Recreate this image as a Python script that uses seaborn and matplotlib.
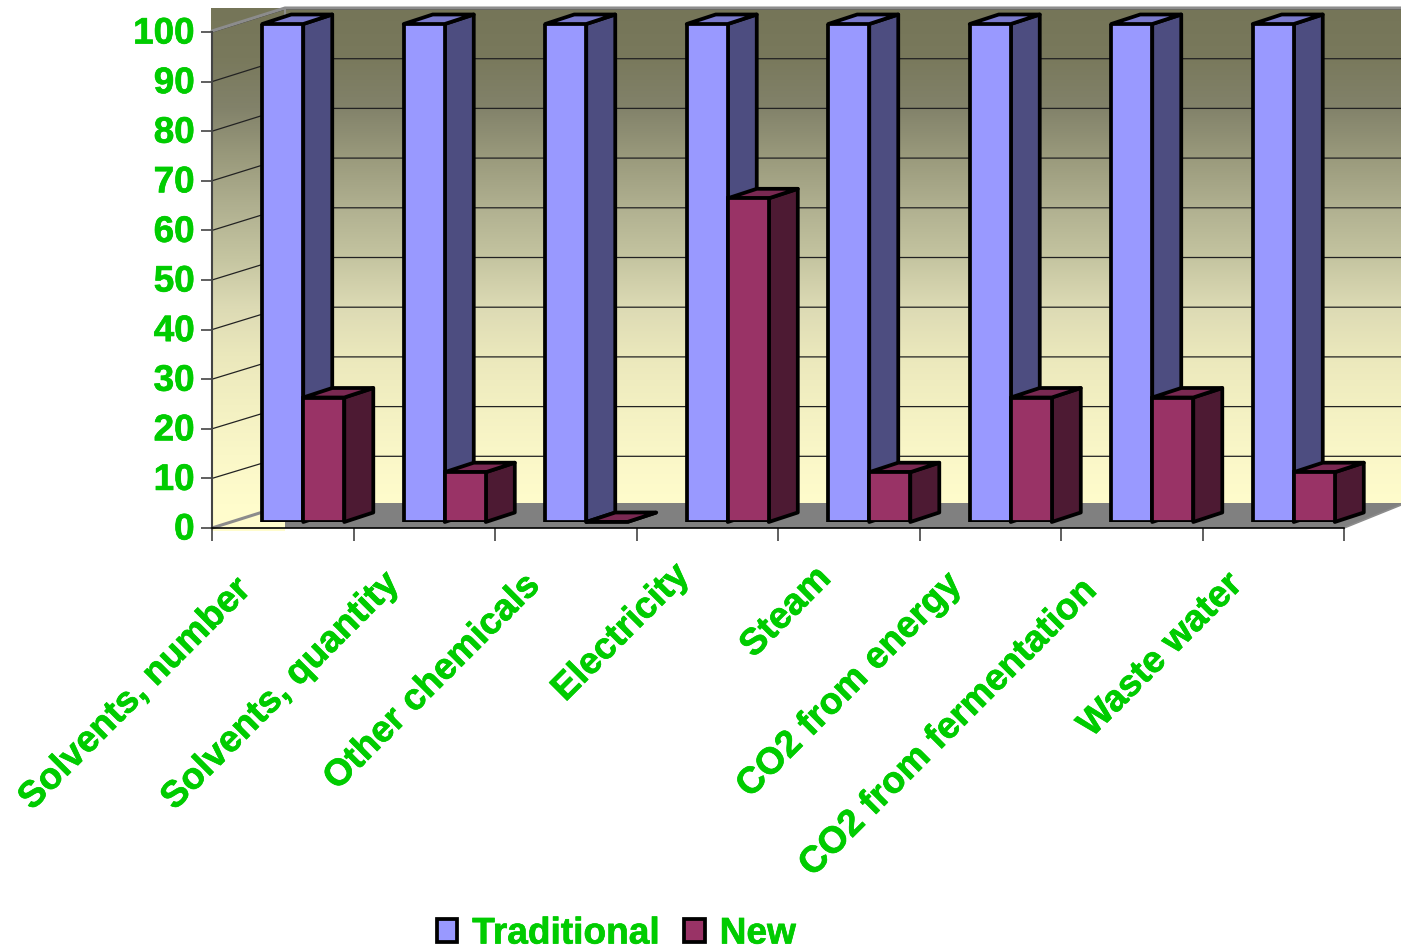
import numpy as np
import pandas as pd
import matplotlib
matplotlib.use('Agg')
import matplotlib.pyplot as plt
import matplotlib.patheffects as pe
from matplotlib.colors import LinearSegmentedColormap
from matplotlib.patches import Polygon, PathPatch
from matplotlib.path import Path
from matplotlib.transforms import ScaledTranslation
import seaborn as sns

categories = ['Solvents, number', 'Solvents, quantity', 'Other chemicals', 'Electricity',
              'Steam', 'CO2 from energy', 'CO2 from fermentation', 'Waste water']
traditional = [100, 100, 100, 100, 100, 100, 100, 100]
new = [25, 10, 0, 65, 10, 25, 25, 10]
y_ticks = [0, 10, 20, 30, 40, 50, 60, 70, 80, 90, 100]

# hand nudges for the slanted labels, in pixels (right, up)
label_nudge_x = [-14, -7, -8, 0, 0, -11, -17, -13]
label_nudge_y = [-2, 4, 2, 12, 9, 3, -3, 3]

# wall colours read top to bottom at each gridline
wall_colors = ['#757558', '#79795C', '#82826A', '#9A9A7C', '#B0B090', '#C4C4A0',
               '#DCDAB4', '#EBE8BC', '#F3F0C2', '#FAF7C8', '#FFFCCC']

GREEN = '#00CC00'
W, H = 1401, 951
BOLDER = [pe.withStroke(linewidth=0.5, foreground=GREEN)]


def rect(left, right, top, bottom):
    # pixel box -> figure fractions
    return [left / W, 1 - bottom / H, (right - left) / W, (bottom - top) / H]


sns.set_theme(style='white')
plt.rcParams['font.family'] = ['Liberation Sans', 'DejaVu Sans']
plt.rcParams['font.weight'] = 'bold'

fig = plt.figure(figsize=(W / 100, H / 100), dpi=100)

# walls and floor, in pixel coordinates
bg = fig.add_axes([0, 0, 1, 1], zorder=0)
wall_cmap = LinearSegmentedColormap.from_list('wall', wall_colors)
img = bg.imshow(np.linspace(0, 1, 256).reshape(-1, 1), cmap=wall_cmap, aspect='auto',
                extent=(211, 1401, 505, 8))
low = bg.imshow(np.ones((2, 2)), cmap=wall_cmap, vmin=0, vmax=1, aspect='auto',
                extent=(211, 1401, 531, 505))
wall_path = Path([(211, 8), (1401, 8), (1401, 505), (285, 505), (285, 531), (211, 531), (211, 8)], closed=True)
for im in (img, low):
    im.set_clip_path(PathPatch(wall_path, transform=bg.transData))
bg.add_patch(Polygon([(285, 503), (1401, 503), (1401, 505), (1344, 528), (285, 528)],
                     facecolor='#808080', edgecolor='none'))
for v in y_ticks[1:]:
    bg.plot([212, 285, 1401], [528 - 4.96 * v, 506 - 4.97 * v, 506 - 4.97 * v], color='#222222', lw=0.9)
bg.plot([212, 285, 1401], [31, 8, 8], color='#8C8C8C', lw=2.2)
bg.plot([285, 285], [8, 16], color='#8C8C8C', lw=1.5)
bg.plot([212, 285], [528, 505], color='#8C8C8C', lw=2.2)
bg.plot([1344, 1401], [528, 505], color='#8C8C8C', lw=1.2)
bg.set_xlim(0, W)
bg.set_ylim(H, 0)
bg.axis('off')

# axis frame with the ticks
ax = fig.add_axes(rect(212, 1344, 32, 528), zorder=1)
ax.patch.set_visible(False)
ax.set_ylim(0, 100)
ax.set_xlim(-0.5, 7.5)
ax.set_yticks(y_ticks)
ax.set_xticks(np.arange(9) - 0.5)
ax.set_xticklabels([])
ax.set_xticks(np.arange(8) - 0.25, labels=categories, minor=True)
ax.tick_params(axis='y', length=8, width=1.2, color='#444444', pad=4.5, left=True,
               labelsize=26.5, labelcolor=GREEN)
ax.tick_params(axis='x', which='major', length=9, width=1.2, color='#444444', bottom=True)
ax.tick_params(axis='x', which='minor', length=0, pad=30, labelsize=26.7, labelcolor=GREEN)
for lab, nx, ny in zip(ax.get_xticklabels(minor=True), label_nudge_x, label_nudge_y):
    lab.set(rotation=45, ha='right', va='top', rotation_mode='anchor', fontweight='bold',
            path_effects=BOLDER)
    lab.set_transform(lab.get_transform() + ScaledTranslation(nx / 100, ny / 100, fig.dpi_scale_trans))
for lab in ax.get_yticklabels():
    lab.set(fontweight='bold', path_effects=BOLDER)
    lab.set_transform(lab.get_transform() + ScaledTranslation(0, 2 / 100, fig.dpi_scale_trans))
for side in ('top', 'right'):
    ax.spines[side].set_visible(False)
ax.spines['left'].set(color='#444444', linewidth=1.5)
ax.spines['bottom'].set(color='black', linewidth=1.2)

# bars sit a little inside the depth of the floor
bar_ax = fig.add_axes(rect(232.5, 1364.5, 24, 522), zorder=2)
bar_ax.patch.set_visible(False)
df = pd.DataFrame({'category': categories * 2,
                   'value': traditional + new,
                   'series': ['Traditional'] * 8 + ['New'] * 8})
sns.barplot(data=df, x='category', y='value', hue='series', ax=bar_ax,
            palette={'Traditional': '#9999FF', 'New': '#993366'}, saturation=1,
            width=0.58, gap=0, edgecolor='black', linewidth=2.7)
bar_ax.set_xlim(-0.5, 7.5)
bar_ax.set_ylim(0, 100)

# pseudo 3D faces built from the seaborn bars
dx = 29 * 8 / 1132
dy = 9.5 * 100 / 498
faces = [('#4D4D80', '#7A7ACC', 0.5), ('#4D1A33', '#7A2952', 0.9)]
for container, (side_col, top_col, z) in zip(bar_ax.containers, faces):
    for bar in container:
        x0, x1 = bar.get_x(), bar.get_x() + bar.get_width()
        h = bar.get_height()
        bar_ax.add_patch(Polygon([(x1, 0), (x1 + dx, dy), (x1 + dx, h + dy), (x1, h)],
                                 facecolor=side_col, edgecolor='black', linewidth=2.7,
                                 joinstyle='round', zorder=z, clip_on=False))
        bar_ax.add_patch(Polygon([(x0, h), (x0 + dx, h + dy), (x1 + dx, h + dy), (x1, h)],
                                 facecolor=top_col, edgecolor='black', linewidth=2.7,
                                 joinstyle='round', zorder=z, clip_on=False))

sns.move_legend(bar_ax, 'center', bbox_to_anchor=(616.5 / W, 1 - 934 / H),
                bbox_transform=fig.transFigure, ncol=2, frameon=False, title=None,
                fontsize=26.7, handlelength=0.55, handleheight=0.55,
                handletextpad=0.4, columnspacing=0.65)
leg = bar_ax.get_legend()
for text in leg.get_texts():
    text.set(color=GREEN, fontweight='bold', path_effects=BOLDER)
bar_ax.axis('off')

fig.savefig('out.png', dpi=100)
